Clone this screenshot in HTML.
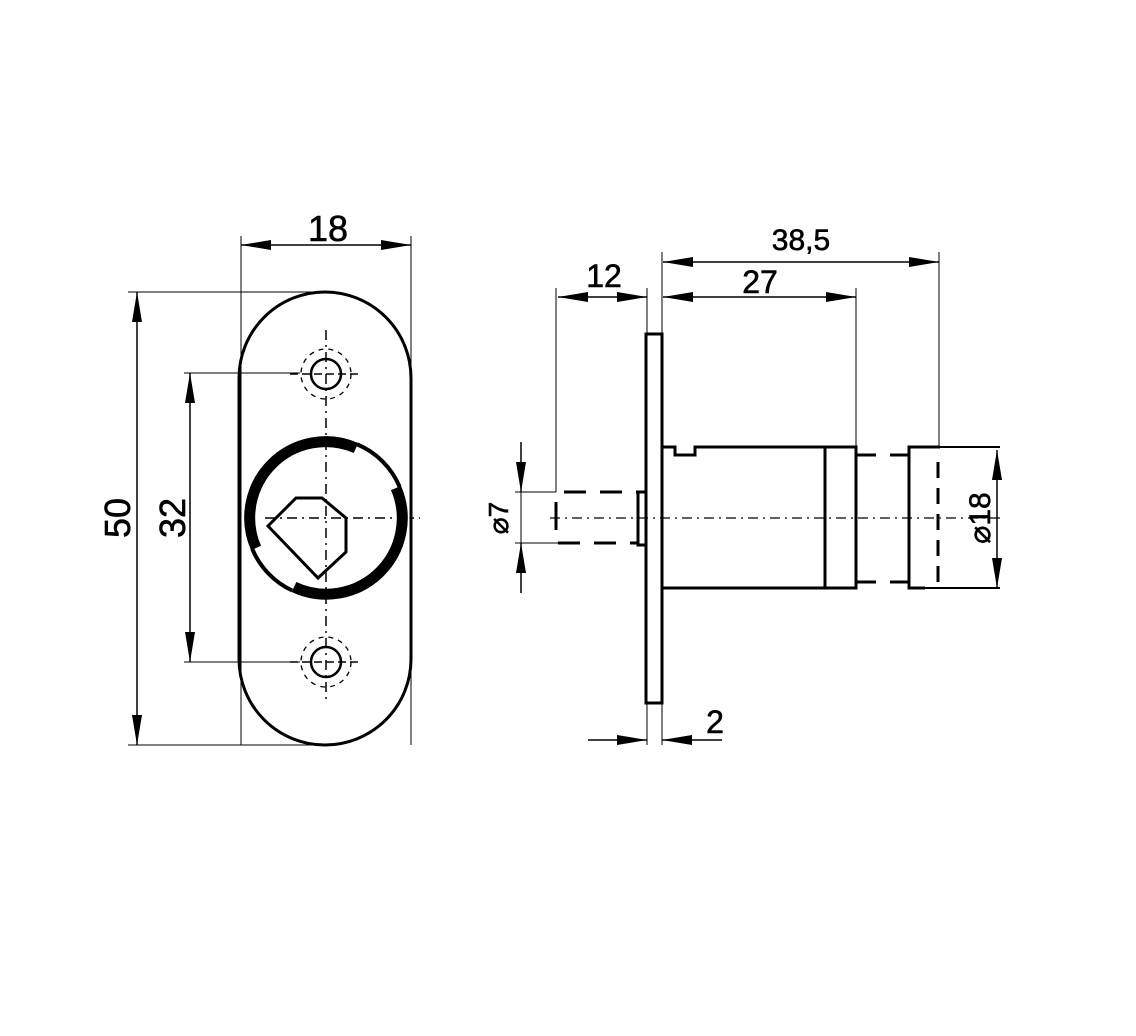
<!DOCTYPE html>
<html><head><meta charset="utf-8"><style>html,body{margin:0;padding:0;background:#fff}svg{display:block}</style></head>
<body>
<svg width="1136" height="1036" viewBox="0 0 1136 1036" xmlns="http://www.w3.org/2000/svg">
<defs>
<marker id="a" viewBox="0 0 30 10" refX="30" refY="5" markerWidth="30" markerHeight="10" markerUnits="userSpaceOnUse" orient="auto-start-reverse"><path d="M0,0 L30,5 L0,10 z" fill="#000"/></marker>
</defs>
<g fill="none" stroke="#000" font-family="Liberation Sans, sans-serif">
<!-- Left view -->
<rect x="239" y="292" width="172" height="453" rx="86" ry="86" stroke-width="3"/>
<path d="M396 488 A76 76 0 0 1 294 587" stroke-width="11"/>
<path d="M256 548 A76 76 0 0 1 356 448" stroke-width="11"/>
<path d="M357.3 444.4 A80 80 0 0 1 399.6 486.7" stroke-width="4"/>
<path d="M292.2 590.5 A80 80 0 0 1 252.4 549.3" stroke-width="4"/>
<polygon points="296,498 322,498 346,518 346,552 318,578 268,526" stroke-width="3" fill="#fff"/>
<line x1="265" y1="518" x2="420" y2="518" stroke-width="1.5" stroke-dasharray="10,5,2,5"/>
<line x1="326" y1="330" x2="326" y2="700" stroke-width="1.5" stroke-dasharray="10,5,2,5"/>
<circle cx="326" cy="374" r="15" stroke-width="2.5"/>
<circle cx="326" cy="374" r="25" stroke-width="1.3" stroke-dasharray="5,5"/>
<circle cx="326" cy="662" r="15" stroke-width="2.5"/>
<circle cx="326" cy="662" r="25" stroke-width="1.3" stroke-dasharray="5,5"/>
<line x1="290" y1="374" x2="362" y2="374" stroke-width="1.5" stroke-dasharray="8,4"/>
<line x1="290" y1="662" x2="362" y2="662" stroke-width="1.5" stroke-dasharray="8,4"/>
<!-- left dims -->
<line x1="241" y1="236" x2="241" y2="745" stroke-width="1"/>
<line x1="411" y1="236" x2="411" y2="745" stroke-width="1"/>
<line x1="241" y1="245" x2="411" y2="245" stroke-width="1.5" marker-start="url(#a)" marker-end="url(#a)"/>
<line x1="128" y1="292" x2="330" y2="292" stroke-width="1"/>
<line x1="128" y1="745" x2="330" y2="745" stroke-width="1"/>
<line x1="137" y1="292" x2="137" y2="745" stroke-width="1.5" marker-start="url(#a)" marker-end="url(#a)"/>
<line x1="184" y1="373" x2="300" y2="373" stroke-width="1"/>
<line x1="184" y1="662" x2="300" y2="662" stroke-width="1"/>
<line x1="190" y1="373" x2="190" y2="662" stroke-width="1.5" marker-start="url(#a)" marker-end="url(#a)"/>
<!-- right view -->
<rect x="646" y="334" width="16" height="369" stroke-width="3"/>
<path d="M662 447 L675 447 L675 455 L695 455 L695 447 L856 447 L856 588 L662 588" stroke-width="3"/>
<line x1="825" y1="447" x2="825" y2="588" stroke-width="3"/>
<path d="M940 447 L909 447 L909 588 L925 588" stroke-width="3"/>
<line x1="940" y1="447" x2="1000" y2="447" stroke-width="2"/>
<line x1="909" y1="588" x2="1000" y2="588" stroke-width="2"/>
<line x1="938" y1="462" x2="938" y2="588" stroke-width="3" stroke-dasharray="16,10"/>
<line x1="856" y1="455" x2="909" y2="455" stroke-width="3" stroke-dasharray="20,14"/>
<line x1="856" y1="582" x2="909" y2="582" stroke-width="3" stroke-dasharray="20,14"/>
<path d="M646 492 L638 492 L638 545 L646 545" stroke-width="3"/>
<line x1="564" y1="492" x2="638" y2="492" stroke-width="3" stroke-dasharray="22,14"/>
<line x1="558" y1="543" x2="638" y2="543" stroke-width="3" stroke-dasharray="22,14"/>
<line x1="556" y1="502" x2="556" y2="530" stroke-width="3"/>
<line x1="550" y1="518" x2="1000" y2="518" stroke-width="1.3" stroke-dasharray="10,5,2,5"/>
<!-- right dims -->
<line x1="556" y1="288" x2="556" y2="492" stroke-width="1"/>
<line x1="515" y1="492" x2="556" y2="492" stroke-width="1"/>
<line x1="515" y1="543" x2="558" y2="543" stroke-width="1"/>
<line x1="521" y1="442" x2="521" y2="492" stroke-width="1.5" marker-end="url(#a)"/>
<line x1="521" y1="593" x2="521" y2="543" stroke-width="1.5" marker-end="url(#a)"/>
<line x1="521" y1="492" x2="521" y2="543" stroke-width="1"/>
<line x1="647" y1="288" x2="647" y2="745" stroke-width="1"/>
<line x1="662" y1="252" x2="662" y2="745" stroke-width="1"/>
<line x1="856" y1="288" x2="856" y2="447" stroke-width="1"/>
<line x1="939" y1="252" x2="939" y2="447" stroke-width="1"/>
<line x1="558" y1="297" x2="647" y2="297" stroke-width="1.5" marker-start="url(#a)" marker-end="url(#a)"/>
<line x1="663" y1="262" x2="939" y2="262" stroke-width="1.5" marker-start="url(#a)" marker-end="url(#a)"/>
<line x1="663" y1="297" x2="856" y2="297" stroke-width="1.5" marker-start="url(#a)" marker-end="url(#a)"/>
<line x1="997" y1="450" x2="997" y2="588" stroke-width="1.5" marker-start="url(#a)" marker-end="url(#a)"/>
<line x1="588" y1="740" x2="647" y2="740" stroke-width="1.5" marker-end="url(#a)"/>
<line x1="722" y1="740" x2="662" y2="740" stroke-width="1.5" marker-end="url(#a)"/>
</g>
<g font-family="Liberation Sans, sans-serif" fill="#000" font-size="36" stroke="#000" stroke-width="0.6">
<text x="328" y="241" text-anchor="middle">18</text>
<text x="801" y="250" text-anchor="middle" font-size="30">38,5</text>
<text x="760" y="293" text-anchor="middle" font-size="32">27</text>
<text x="604" y="287" text-anchor="middle" font-size="32">12</text>
<text x="715" y="733" text-anchor="middle" font-size="32">2</text>
<text transform="translate(130,518) rotate(-90)" text-anchor="middle">50</text>
<text transform="translate(185,518) rotate(-90)" text-anchor="middle">32</text>
<text transform="translate(508,518) rotate(-90)" text-anchor="middle" font-size="28">⌀7</text>
<text transform="translate(990,518) rotate(-90)" text-anchor="middle" font-size="30">⌀18</text>
</g>
</svg>
</body></html>
